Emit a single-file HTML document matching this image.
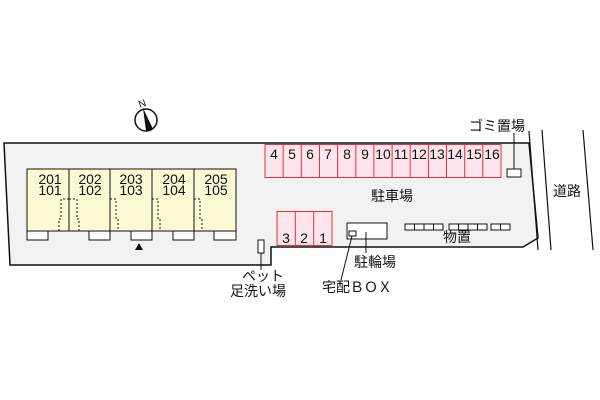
<!DOCTYPE html>
<html><head><meta charset="utf-8"><style>
body{margin:0;background:#fff}
svg{display:block}
text{font-family:"Liberation Sans","Noto Sans CJK JP",sans-serif;fill:#111}
</style></head><body>
<svg width="600" height="400" viewBox="0 0 600 400" xmlns="http://www.w3.org/2000/svg">
<polygon points="4,143 529,143 538,238 523,247 271,247 271,265 10,265" fill="#f2f2f2" stroke="#111" stroke-width="1.5"/>
<g stroke="#111" stroke-width="1.2">
<line x1="529" y1="131" x2="538" y2="250"/>
<line x1="542" y1="130" x2="551" y2="250"/>
<line x1="583" y1="130" x2="593" y2="250"/>
</g>
<text x="567" y="196" font-size="14" text-anchor="middle">道路</text>
<circle cx="146" cy="120" r="11" fill="#fff" stroke="#111" stroke-width="1.5"/>
<polygon points="143,108 153,129 146,131" fill="#111"/>
<text x="142" y="107" font-size="10" text-anchor="middle" transform="rotate(-20 142 103)">N</text>
<rect x="27" y="169" width="209" height="62" fill="#fcfad4" stroke="#111" stroke-width="1"/>
<g stroke="#111"><line x1="69" y1="169" x2="69" y2="231"/><line x1="110" y1="169" x2="110" y2="231"/><line x1="152" y1="169" x2="152" y2="231"/><line x1="194" y1="169" x2="194" y2="231"/></g>
<g fill="#fff" stroke="#111"><rect x="27" y="231" width="21" height="9"/><rect x="89" y="231" width="21" height="9"/><rect x="131" y="231" width="21" height="9"/><rect x="173" y="231" width="21" height="9"/><rect x="214" y="231" width="22" height="9"/></g>
<polygon points="139,243 135,250 143,250" fill="#111"/>
<g stroke="#111" stroke-dasharray="2,2" fill="none">
<path d="M59,231 V219 H61 V199 H69"/><path d="M69,199 H77 V219 H79 V231"/>
<path d="M110,199 H116 V219 H118 V231"/><path d="M152,199 H158 V219 H160 V231"/><path d="M194,199 H200 V219 H202 V231"/>
</g>
<g font-size="14" text-anchor="middle">
<text x="50" y="184">201</text><text x="50" y="195">101</text>
<text x="90" y="184">202</text><text x="90" y="195">102</text>
<text x="131" y="184">203</text><text x="131" y="195">103</text>
<text x="174" y="184">204</text><text x="174" y="195">104</text>
<text x="216" y="184">205</text><text x="216" y="195">105</text>
</g>
<g fill="#fde5ee" stroke="#e8303a">
<rect x="265" y="144.5" width="236" height="33"/>
<rect x="277" y="211.5" width="55" height="34"/>
</g>
<g stroke="#e8303a">
<line x1="283.2" y1="144.5" x2="283.2" y2="177.5"/><line x1="301.3" y1="144.5" x2="301.3" y2="177.5"/><line x1="319.5" y1="144.5" x2="319.5" y2="177.5"/><line x1="337.6" y1="144.5" x2="337.6" y2="177.5"/><line x1="355.8" y1="144.5" x2="355.8" y2="177.5"/><line x1="373.9" y1="144.5" x2="373.9" y2="177.5"/><line x1="392.1" y1="144.5" x2="392.1" y2="177.5"/><line x1="410.2" y1="144.5" x2="410.2" y2="177.5"/><line x1="428.4" y1="144.5" x2="428.4" y2="177.5"/><line x1="446.5" y1="144.5" x2="446.5" y2="177.5"/><line x1="464.7" y1="144.5" x2="464.7" y2="177.5"/><line x1="482.8" y1="144.5" x2="482.8" y2="177.5"/>
<line x1="295.3" y1="211.5" x2="295.3" y2="245.5"/><line x1="313.7" y1="211.5" x2="313.7" y2="245.5"/>
</g>
<g font-size="14" text-anchor="middle">
<text x="274" y="159">4</text><text x="292" y="159">5</text><text x="310" y="159">6</text><text x="328" y="159">7</text><text x="347" y="159">8</text><text x="365" y="159">9</text><text x="383" y="159">10</text><text x="401" y="159">11</text><text x="419" y="159">12</text><text x="437" y="159">13</text><text x="455" y="159">14</text><text x="474" y="159">15</text><text x="492" y="159">16</text>
<text x="286" y="243">3</text><text x="304" y="243">2</text><text x="323" y="243">1</text>
</g>
<text x="392" y="201" font-size="14" text-anchor="middle">駐車場</text>
<rect x="507" y="169" width="14" height="8" fill="#fff" stroke="#111"/>
<line x1="514" y1="169" x2="514" y2="133" stroke="#111"/>
<text x="497" y="131" font-size="14" text-anchor="middle">ゴミ置場</text>
<rect x="347" y="223" width="40" height="16" fill="#fff" stroke="#111"/>
<rect x="349" y="231" width="7" height="5" fill="#fff" stroke="#111"/>
<line x1="366" y1="232" x2="366" y2="253" stroke="#111"/>
<line x1="352" y1="236" x2="341" y2="280" stroke="#111"/>
<text x="375" y="267" font-size="14" text-anchor="middle">駐輪場</text>
<text x="357" y="292" font-size="14" text-anchor="middle">宅配ＢＯＸ</text>
<g fill="#fff" stroke="#111">
<rect x="405" y="224" width="9.5" height="6"/><rect x="414.5" y="224" width="9.5" height="6"/><rect x="424" y="224" width="9.5" height="6"/><rect x="433.5" y="224" width="9.5" height="6"/>
<rect x="449" y="224" width="9.5" height="6"/><rect x="458.5" y="224" width="9.5" height="6"/><rect x="468" y="224" width="9.5" height="6"/><rect x="477.5" y="224" width="9.5" height="6"/>
<rect x="491" y="224" width="9.5" height="6"/><rect x="500.5" y="224" width="9.5" height="6"/>
</g>
<text x="457" y="242" font-size="14" text-anchor="middle">物置</text>
<rect x="258" y="240" width="6" height="13" fill="#fff" stroke="#111"/>
<line x1="261" y1="253" x2="261" y2="270" stroke="#111"/>
<text x="263" y="281" font-size="14" text-anchor="middle">ペット</text>
<text x="258" y="296" font-size="14" text-anchor="middle">足洗い場</text>
</svg>
</body></html>
